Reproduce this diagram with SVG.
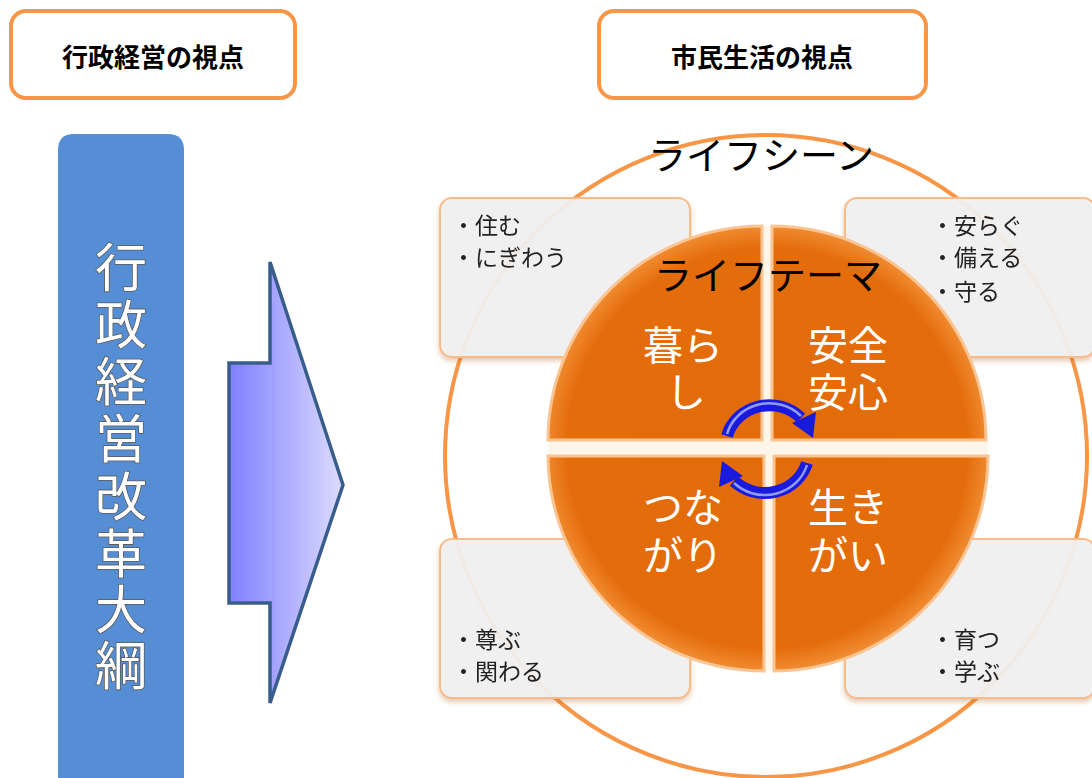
<svg xmlns="http://www.w3.org/2000/svg" width="1092" height="778" viewBox="0 0 1092 778">
<defs>
<style>
.hdr{fill:#fff;stroke:#F79646;stroke-width:4}
.hdrt{font-family:"Noto Sans CJK JP","Noto Sans",sans-serif;font-weight:bold;font-size:26px;fill:#000;text-anchor:middle;dominant-baseline:central}
.vt{font-family:"Noto Sans CJK JP",sans-serif;font-size:52px;fill:#fff;stroke:#5a5a5a;stroke-width:1.6;paint-order:stroke;text-anchor:middle;dominant-baseline:central}
.scene{fill:#F2F2F2;fill-opacity:0.92;stroke:#F7BC8A;stroke-width:2}
.st{font-family:"Noto Sans CJK JP",sans-serif;font-size:23px;fill:#222;dominant-baseline:central}
.big{font-family:"Noto Sans CJK JP",sans-serif;font-size:38px;fill:#000;text-anchor:middle;dominant-baseline:central}
.q{fill:url(#qg);stroke:#FBC593;stroke-width:3}
.qt{font-family:"Noto Sans CJK JP",sans-serif;font-size:40px;fill:#fff;text-anchor:middle;dominant-baseline:central}
.cyc{fill:none;stroke:#1A1ADD;stroke-width:12}
.cych{fill:none;stroke:#8E9CFF;stroke-width:2.5}
</style>
<linearGradient id="ag" x1="0" y1="0" x2="1" y2="0">
<stop offset="0" stop-color="#7F7FFF"/>
<stop offset="1" stop-color="#DCDCFF"/>
</linearGradient>
<radialGradient id="qg" cx="767" cy="448" r="222" gradientUnits="userSpaceOnUse">
<stop offset="0" stop-color="#E36C0A"/>
<stop offset="0.9" stop-color="#E46C0A"/>
<stop offset="1" stop-color="#F08A30"/>
</radialGradient>
<filter id="sh" x="-10%" y="-10%" width="125%" height="130%">
<feDropShadow dx="0" dy="3" stdDeviation="2.5" flood-color="#B06020" flood-opacity="0.35"/>
</filter>
</defs>
<rect width="1092" height="778" fill="#fff"/>

<g id="header-left">
<rect class="hdr" x="11" y="11" width="284" height="87" rx="15"/>
<text class="hdrt" x="153" y="55">行政経営の視点</text>
</g>
<g id="header-right">
<rect class="hdr" x="599" y="11" width="327" height="87" rx="15"/>
<text class="hdrt" x="762" y="55">市民生活の視点</text>
</g>

<g id="gyosei">
<path d="M58,150 Q58,134 74,134 H168 Q184,134 184,150 V778 H58 Z" fill="#558ED5"/>
<text class="vt" x="121" y="264">行</text><text class="vt" x="121" y="321">政</text>
<text class="vt" x="121" y="378">経</text><text class="vt" x="121" y="435">営</text>
<text class="vt" x="121" y="493">改</text><text class="vt" x="121" y="550">革</text>
<text class="vt" x="121" y="606">大</text><text class="vt" x="121" y="662">綱</text>
</g>

<g id="connectors">
<polygon points="229,363 270,363 270,262 343,485 270,703 270,603 229,603" fill="url(#ag)" stroke="#385D8A" stroke-width="3.5" stroke-linejoin="miter"/>
</g>

<g id="life-scene">
<circle cx="766" cy="456" r="321" fill="none" stroke="#F79646" stroke-width="4"/>
<text class="big" x="761" y="152">ライフシーン</text>
</g>

<g id="scene-tl" filter="url(#sh)">
<rect class="scene" x="440" y="198" width="250" height="159" rx="12"/>
<text class="st" x="452" y="224">・住む</text>
<text class="st" x="452" y="256">・にぎわう</text>
</g>
<g id="scene-tr" filter="url(#sh)">
<rect class="scene" x="845" y="198" width="250" height="159" rx="12"/>
<text class="st" x="931" y="224">・安らぐ</text>
<text class="st" x="931" y="256">・備える</text>
<text class="st" x="931" y="290">・守る</text>
</g>
<g id="scene-bl" filter="url(#sh)">
<rect class="scene" x="440" y="539" width="250" height="159" rx="12"/>
<text class="st" x="452" y="638">・尊ぶ</text>
<text class="st" x="452" y="670">・関わる</text>
</g>
<g id="scene-br" filter="url(#sh)">
<rect class="scene" x="845" y="539" width="250" height="159" rx="12"/>
<text class="st" x="931" y="638">・育つ</text>
<text class="st" x="931" y="670">・学ぶ</text>
</g>

<g id="life-theme">
<rect x="548" y="441" width="440" height="14" fill="#FFF6EA"/>
<rect x="762" y="226" width="11" height="445" fill="#FFF6EA"/>
<g id="q-kurashi">
<path class="q" d="M762,440 V226 A214,214 0 0 0 548,440 Z"/>
<text class="qt" x="683" y="343">暮ら</text>
<text class="qt" x="686" y="390">し</text>
</g>
<g id="q-anzen">
<path class="q" d="M772,440 V226 A214,214 0 0 1 986,440 Z"/>
<text class="qt" x="848" y="343">安全</text>
<text class="qt" x="848" y="390">安心</text>
</g>
<g id="q-tsunagari">
<path class="q" d="M764,456 H548 A216,216 0 0 0 764,671 Z"/>
<text class="qt" x="683" y="505">つな</text>
<text class="qt" x="683" y="553">がり</text>
</g>
<g id="q-ikigai">
<path class="q" d="M774,456 V671 A215,215 0 0 0 988,456 Z"/>
<text class="qt" x="848" y="505">生き</text>
<text class="qt" x="848" y="553">がい</text>
</g>
<text class="big" x="768" y="272">ライフテーマ</text>
</g>

<g id="cycle">
<path class="cyc" d="M727,436 A44,42 0 0 1 801,418"/>
<path class="cych" d="M727,434 A44,42 0 0 1 801,416"/>
<polygon points="792,423 816,412 813,438" fill="#1A1ADD"/>
<path class="cyc" d="M807,463 A44,42 0 0 1 734,481"/>
<path class="cych" d="M807,465 A44,42 0 0 1 734,483"/>
<polygon points="743,476 719,487 722,461" fill="#1A1ADD"/>
</g>
</svg>
